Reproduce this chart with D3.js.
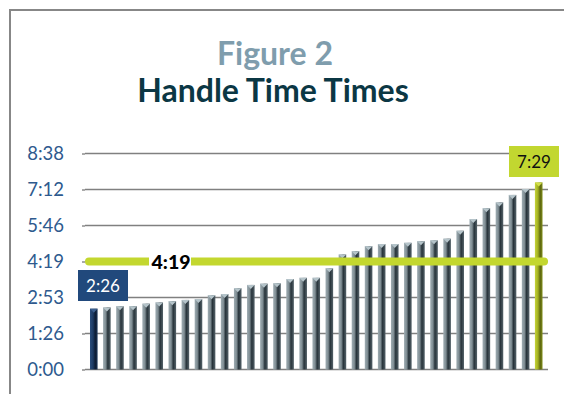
<!DOCTYPE html>
<html>
<head>
<meta charset="utf-8">
<script src="https://cdn.jsdelivr.net/npm/d3@7"></script>
<style>
  html, body { margin: 0; padding: 0; background: #fff; }
  svg { display: block; font-family: Lato, "Open Sans", sans-serif; }
</style>
</head>
<body>
<div id="chart"></div>
<script>
// handle time per agent, seconds (sorted)
const agents = d3.range(35);
const handleSeconds = [
  146, 149, 152, 152, 158, 161, 164, 167, 169, 178, 181, 195, 203, 206, 207, 217, 220, 220,
  243, 276, 284, 296, 301, 301, 304, 308, 310, 314, 333, 361, 387, 401, 419, 433, 449
];
const averageSeconds = 259;
const tickSeconds = [0, 86.4, 172.8, 259.2, 345.6, 432, 518.4];

const width = 564;
const height = 394;

const fmt = (s) => {
  const t = Math.round(s);
  return Math.floor(t / 60) + ":" + String(t % 60).padStart(2, "0");
};

const svg = d3.select("#chart").append("svg").attr("width", width).attr("height", height);
const defs = svg.append("defs");

function cylinder(id, stops) {
  const g = defs.append("linearGradient").attr("id", id).attr("x1", "0").attr("x2", "1").attr("y1", "0").attr("y2", "0");
  stops.forEach(([o, c]) => g.append("stop").attr("offset", o).attr("stop-color", c));
}
cylinder("barGray", [["0%", "#9fadb3"], ["35%", "#7f8d93"], ["62%", "#27333a"], ["100%", "#55636a"]]);
cylinder("barBlue", [["0%", "#2a4d7c"], ["40%", "#1c3a63"], ["70%", "#0c1b33"], ["100%", "#1b3558"]]);
cylinder("barOlive", [["0%", "#c6d43a"], ["40%", "#a2b021"], ["70%", "#5c6610"], ["100%", "#7f8c18"]]);

// frame
svg.append("rect")
  .attr("x", 10).attr("y", 10).attr("width", width + 20).attr("height", height + 20)
  .attr("fill", "none").attr("stroke", "#878787").attr("stroke-width", 2);

// titles
svg.append("text").attr("x", 275).attr("y", 65).attr("text-anchor", "middle")
  .attr("font-size", 32).attr("font-weight", 700).attr("fill", "#7f9dad").text("Figure 2");
svg.append("text").attr("x", 273).attr("y", 102).attr("text-anchor", "middle")
  .attr("font-size", 32).attr("font-weight", 700).attr("fill", "#0b3744").text("Handle Time Times");

const x = d3.scaleBand().domain(agents).range([84.5, 548]).padding(0.42);
const y = d3.scaleLinear().domain([0, 518.4]).range([369.5, 153.5]);

// gridlines
svg.append("g").selectAll("line").data(tickSeconds).join("line")
  .attr("x1", 85).attr("x2", 548)
  .attr("y1", (d) => y(d)).attr("y2", (d) => y(d))
  .attr("stroke", "#808080").attr("stroke-width", 1.5);

// y axis labels
const yAxis = svg.append("g").attr("transform", "translate(85,0)")
  .call(d3.axisLeft(y).tickValues(tickSeconds).tickFormat(fmt).tickSize(3).tickPadding(18));
yAxis.select(".domain").remove();
yAxis.selectAll(".tick line").attr("stroke", "#555");
yAxis.selectAll("text").attr("font-size", 18.5).attr("fill", "#2e5a8e").attr("font-family", "Lato, sans-serif");

// bars
const last = agents.length - 1;
const fillFor = (i) => (i === 0 ? "url(#barBlue)" : i === last ? "url(#barOlive)" : "url(#barGray)");
const capFor = (i) => (i === 0 ? "#3b5f8f" : i === last ? "#d3e04a" : "#b5c4ca");

const bars = svg.append("g").selectAll("g").data(handleSeconds).join("g");
bars.append("rect")
  .attr("x", (d, i) => x(i)).attr("width", x.bandwidth())
  .attr("y", (d) => y(d)).attr("height", (d) => y(0) - y(d))
  .attr("fill", (d, i) => fillFor(i));
bars.append("path")
  .attr("d", (d, i) => {
    const x0 = x(i), w = x.bandwidth(), top = y(d);
    return `M${x0},${top}L${x0 + w},${top}L${x0 + w * 0.5},${top + 4}Z`;
  })
  .attr("fill", (d, i) => capFor(i));

// average line
const yAvg = y(averageSeconds);
svg.append("line")
  .attr("x1", 89).attr("x2", 544).attr("y1", yAvg).attr("y2", yAvg)
  .attr("stroke", "#c3d72f").attr("stroke-width", 8).attr("stroke-linecap", "round");
svg.append("rect").attr("x", 149).attr("y", yAvg - 10).attr("width", 42).attr("height", 19).attr("fill", "#fff");
svg.append("text").attr("x", 171).attr("y", yAvg + 7).attr("text-anchor", "middle")
  .attr("font-size", 19.5).attr("font-weight", 900).attr("fill", "#000").text(fmt(averageSeconds));

// min / max labels
function callout(i, fill, color, bx, by) {
  svg.append("rect").attr("x", bx).attr("y", by).attr("width", 50).attr("height", 31).attr("fill", fill);
  svg.append("text").attr("x", bx + 25).attr("y", by + 21.5).attr("text-anchor", "middle")
    .attr("font-size", 17).attr("fill", color).text(fmt(handleSeconds[i]));
}
callout(0, "#21497c", "#fff", 78, 270);
callout(last, "#c2d730", "#111", 509, 146);
</script>
</body>
</html>
